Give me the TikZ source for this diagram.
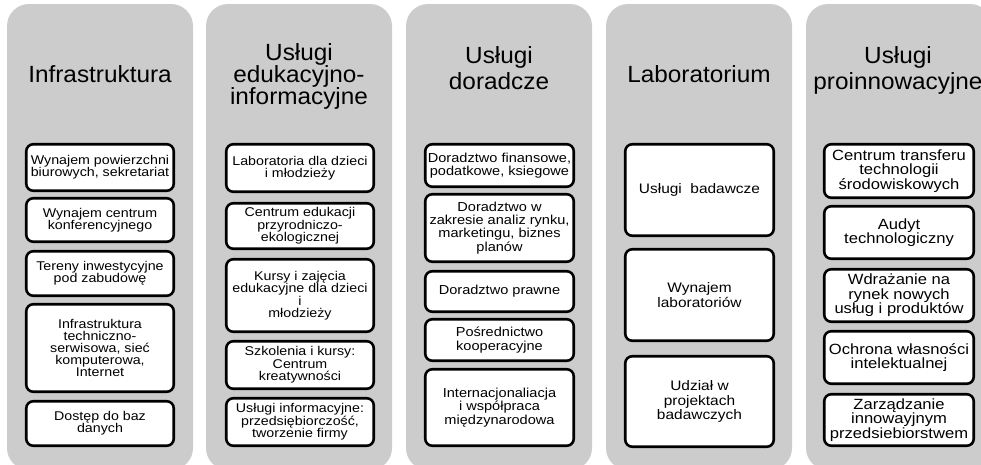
\documentclass[tikz,border=0pt]{standalone}
\usepackage{fontspec}
\setmainfont{Liberation Sans}
\newfontfamily\boxfont[FakeStretch=1.12]{Liberation Sans}
\newfontfamily\ttlfont[FakeStretch=1.04]{Liberation Sans}
\definecolor{panelgray}{RGB}{204,204,204}
\setlength{\lineskiplimit}{-100pt}
\setlength{\lineskip}{0pt}
\begin{document}
\begin{tikzpicture}[x=1pt,y=-1pt,
  panel/.style={fill=panelgray, rounded corners=22pt},
  title/.style={anchor=north, align=center, inner sep=0pt, text=black},
  ttlA/.style={title, font=\ttlfont\fontsize{23.4}{22}\selectfont},
  ttlB/.style={title, font=\ttlfont\fontsize{23.4}{26}\selectfont},
  item/.style={draw=black, line width=2.6pt, fill=white, rounded corners=7pt,
    align=center, inner sep=1pt, text=black},
  fA/.style={item, minimum width=147.5pt, font=\boxfont\fontsize{12.7}{11.8}\selectfont},
  fB/.style={item, minimum width=147.5pt, font=\boxfont\fontsize{12.7}{12.5}\selectfont},
  fC/.style={item, minimum width=148.5pt, font=\boxfont\fontsize{13}{13.2}\selectfont},
  fD/.style={item, minimum width=148.5pt, font=\boxfont\fontsize{13.8}{14.3}\selectfont},
  fE/.style={item, minimum width=149.5pt, font=\boxfont\fontsize{14.8}{14.5}\selectfont}]
\useasboundingbox (0,0) rectangle (981,464);
\clip (0,0) rectangle (981,464);

% panels
\fill[panel] (7,4) rectangle (193,470);
\fill[panel] (206,4) rectangle (392,470);
\fill[panel] (406,4) rectangle (592,470);
\fill[panel] (606,4) rectangle (792,470);
\fill[panel] (806,4) rectangle (992,470);

% titles
\node[ttlA] (t1) at (100,65) {Infrastruktura};
\node[ttlA] (t2) at (299,43.2) {Usługi\\edukacyjno-\\informacyjne};
\node[ttlB] (t3) at (499,46.2) {Usługi\\doradcze};
\node[ttlA] (t4) at (699,65) {Laboratorium};
\node[ttlB] (t5) at (898,46.2) {Usługi\\proinnowacyjne};

% panel 1
\node[fA, minimum height=46.5pt] (a1) at (100,167.5) {Wynajem powierzchni\\biurowych, sekretariat};
\node[fA, minimum height=43.5pt] (a2) at (100,220) {Wynajem centrum\\konferencyjnego};
\node[fA, minimum height=44.5pt] (a3) at (100,273.5) {Tereny inwestycyjne\\pod zabudowę};
\node[fA, minimum height=87.5pt] (a4) at (100,348) {Infrastruktura\\techniczno-\\serwisowa, sieć\\komputerowa,\\Internet};
\node[fA, minimum height=44.5pt] (a5) at (100,423.5) {Dostęp do baz\\danych};

% panel 2
\node[fB, minimum height=47.5pt] (b1) at (300,168) {Laboratoria dla dzieci\\i młodzieży};
\node[fB, minimum height=45.5pt] (b2) at (300,226) {Centrum edukacji\\przyrodniczo-\\ekologicznej};
\node[fB, minimum height=72.5pt] (b3) at (300,295.5) {Kursy i zajęcia\\edukacyjne dla dzieci\\i\\młodzieży};
\node[fB, minimum height=47.5pt] (b4) at (300,365) {Szkolenia i kursy:\\Centrum\\kreatywności};
\node[fB, minimum height=47.5pt] (b5) at (300,422) {Usługi informacyjne:\\przedsiębiorczość,\\tworzenie firmy};

% panel 3
\node[fC, minimum height=42.5pt] (c1) at (499.5,165.5) {Doradztwo finansowe,\\podatkowe, ksiegowe};
\node[fC, minimum height=67.5pt] (c2) at (499.5,228) {Doradztwo w\\zakresie analiz rynku,\\marketingu, biznes\\planów};
\node[fC, minimum height=40.5pt] (c3) at (499.5,291.5) {Doradztwo prawne};
\node[fC, minimum height=41.5pt] (c4) at (499.5,340) {Pośrednictwo\\kooperacyjne};
\node[fC, minimum height=76.5pt] (c5) at (499.5,407.5) {Internacjonaliacja\\i współpraca\\międzynarodowa};

% panel 4
\node[fD, minimum height=91.5pt] (d1) at (699.5,190) {Usługi~ badawcze};
\node[fD, minimum height=91.5pt] (d2) at (699.5,295) {Wynajem\\laboratoriów};
\node[fD, minimum height=90.5pt] (d3) at (699.5,401.5) {Udział w\\projektach\\badawczych};

% panel 5
\node[fE, minimum height=53.5pt] (e1) at (899,171) {Centrum transferu\\technologii\\środowiskowych};
\node[fE, minimum height=52.5pt] (e2) at (899,232.5) {Audyt\\technologiczny};
\node[fE, minimum height=52.5pt] (e3) at (899,295.5) {Wdrażanie na\\rynek nowych\\usług i produktów};
\node[fE, minimum height=52.5pt] (e4) at (899,357.5) {Ochrona własności\\intelektualnej};
\node[fE, minimum height=51.5pt] (e5) at (899,420) {Zarządzanie\\innowayjnym\\przedsiebiorstwem};
\end{tikzpicture}
\end{document}
